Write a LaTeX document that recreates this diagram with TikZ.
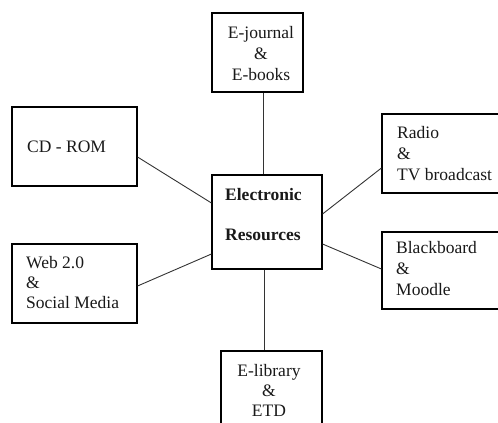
\documentclass[tikz,border=0pt]{standalone}
\usepackage{fontspec}
\setmainfont{Liberation Serif}
\begin{document}
\begin{tikzpicture}[x=1pt,y=-1pt,
  box/.style={draw=black,line width=1.1pt,inner sep=0pt,fill=none},
  conn/.style={draw=black!80,line width=0.9pt},
  txt/.style={inner sep=0pt,font=\fontsize{17.5}{21}\selectfont,text=black!90},
  lt/.style={txt,anchor=base west},
  ct/.style={txt,anchor=base}]
\useasboundingbox (0,0) rectangle (498,423);
% boxes
\node[box,minimum width=91pt,minimum height=79pt] (top) at (257.5,52.5) {};
\node[box,minimum width=125pt,minimum height=79pt] (cd) at (74.5,146.5) {};
\node[box,minimum width=110pt,minimum height=94pt] (ctr) at (267,222) {};
\node[box,minimum width=130pt,minimum height=79pt] (radio) at (447,153.5) {};
\node[box,minimum width=125pt,minimum height=79pt] (web) at (74.5,283.5) {};
\node[box,minimum width=130pt,minimum height=77pt] (bb) at (447,270.5) {};
\node[box,minimum width=101pt,minimum height=79pt] (bot) at (271.5,390.5) {};
% texts
\node[ct] (t1) at (261,38) {E-journal};
\node[ct] (t2) at (261,59) {\&};
\node[ct] (t3) at (261,80) {E-books};
\node[lt] (c1) at (27,152) {CD - ROM};
\node[lt,font=\fontsize{17.5}{21}\selectfont\bfseries] (e1) at (225,200) {Electronic};
\node[lt,font=\fontsize{17.5}{21}\selectfont\bfseries] (e2) at (225,240.5) {Resources};
\node[lt] (r1) at (397,138) {Radio};
\node[lt] (r2) at (397,159) {\&};
\node[lt] (r3) at (397,180) {TV broadcast};
\node[lt] (w1) at (26,268) {Web 2.0};
\node[lt] (w2) at (26,288) {\&};
\node[lt] (w3) at (26,308) {Social Media};
\node[lt] (b1) at (396,253) {Blackboard};
\node[lt] (b2) at (396,274) {\&};
\node[lt] (b3) at (396,295) {Moodle};
\node[ct] (l1) at (269,376.5) {E-library};
\node[ct] (l2) at (269,396.5) {\&};
\node[ct] (l3) at (269,416.5) {ETD};
% connectors
\draw[conn] ([xshift=6pt]top.south) -- ([xshift=-3.5pt]ctr.north);
\draw[conn] ([yshift=-10.5pt]cd.east) -- ([yshift=19pt]ctr.west);
\draw[conn] ([yshift=-2.5pt]web.east) -- ([yshift=-32pt]ctr.west);
\draw[conn] ([yshift=-14.5pt]radio.west) -- ([yshift=8pt]ctr.east);
\draw[conn] ([yshift=1.5pt]bb.west) -- ([yshift=-22pt]ctr.east);
\draw[conn] ([xshift=-3pt]ctr.south) -- ([xshift=-7.5pt]bot.north);
\end{tikzpicture}
\end{document}
